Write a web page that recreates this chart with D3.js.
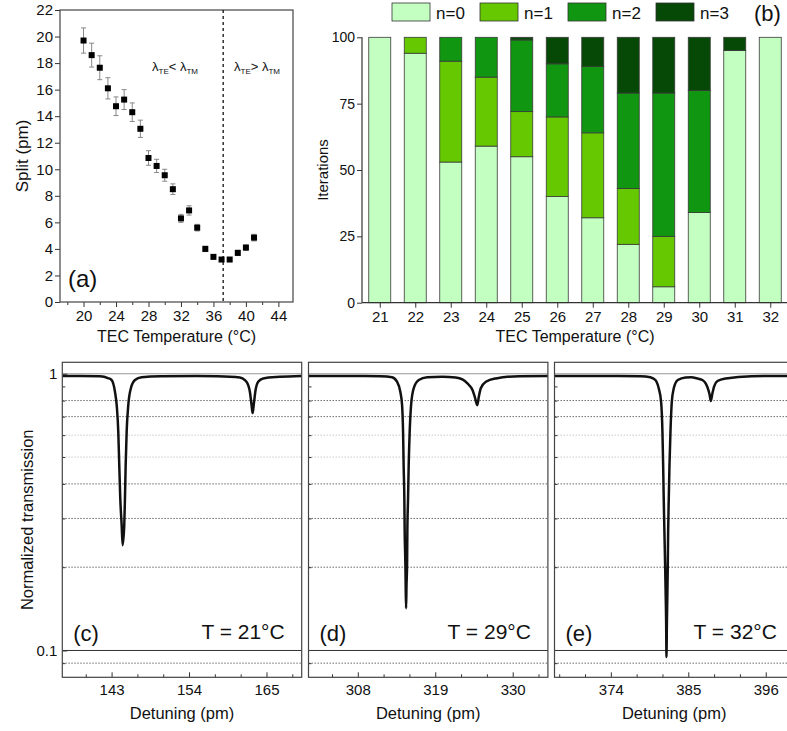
<!DOCTYPE html>
<html>
<head>
<meta charset="utf-8">
<script src="https://cdn.jsdelivr.net/npm/d3@7"></script>
<style>
  body { margin: 0; background: #fff; }
  text { font-family: "Liberation Sans", Arial, sans-serif; fill: #111; }
</style>
</head>
<body>
<div id="chart"></div>
<script>
// ---------- data ----------
// (a) split vs temperature
var splitTemp = [20, 21, 22, 23, 24, 25, 26, 27, 28, 29, 30, 31, 32, 33, 34, 35, 36, 37, 38, 39, 40, 41];
var splitVal  = [19.7, 18.6, 17.65, 16.1, 14.75, 15.25, 14.3, 13.05, 10.85, 10.25, 9.55, 8.5,
                 6.3, 6.9, 5.6, 4.0, 3.4, 3.2, 3.2, 3.7, 4.1, 4.85];
var splitErr  = [0.95, 0.9, 0.9, 0.8, 0.7, 0.75, 0.7, 0.65, 0.55, 0.5, 0.45, 0.4,
                 0.3, 0.35, 0.25, 0.2, 0.15, 0.15, 0.15, 0.2, 0.2, 0.25];
var crossTemp = 37.2;
var aXTicks = [20, 24, 28, 32, 36, 40, 44];
var aXMinor = [18, 22, 26, 30, 34, 38, 42];
var aYTicks = [0, 2, 4, 6, 8, 10, 12, 14, 16, 18, 20, 22];

// (b) iterations per mode number
var barTemp = [21, 22, 23, 24, 25, 26, 27, 28, 29, 30, 31, 32];
var n0 = [100, 94, 53, 59, 55, 40, 32, 22, 6, 34, 95, 100];
var n1 = [0, 6, 38, 26, 17, 30, 32, 21, 19, 0, 0, 0];
var n2 = [0, 0, 9, 15, 27, 20, 25, 36, 54, 46, 0, 0];
var n3 = [0, 0, 0, 0, 1, 10, 11, 21, 21, 20, 5, 0];
var modeKeys = ["n0", "n1", "n2", "n3"];
var modeNames = ["n=0", "n=1", "n=2", "n=3"];
var modeColors = ["#c2ffc0", "#66c800", "#109610", "#064806"];
var bYTicks = [0, 25, 50, 75, 100];

// (c)-(e) transmission spectra
var cX = [136, 138.5, 141.35, 142.49, 143.01, 143.48, 143.76, 143.95, 144.09, 144.23,
          144.43, 144.57, 144.80, 144.90, 145.00, 145.14, 145.37, 145.75, 146.32, 147.27,
          150, 155, 158, 161.22, 161.93, 162.40, 162.64, 162.88, 163.03, 163.21,
          163.45, 163.82, 164.53, 166.90, 170];
var cT = [0.982, 0.982, 0.980, 0.965, 0.949, 0.861, 0.752, 0.617, 0.468, 0.356,
          0.284, 0.240, 0.284, 0.356, 0.468, 0.617, 0.770, 0.888, 0.949, 0.972,
          0.980, 0.982, 0.980, 0.970, 0.949, 0.910, 0.861, 0.770, 0.721, 0.782,
          0.873, 0.936, 0.962, 0.975, 0.982];
var dX = [301, 305, 309, 311.19, 312.86, 313.57, 314.04, 314.29, 314.43, 314.51,
          314.61, 314.66, 314.76, 314.80, 314.86, 314.92, 315.00, 315.04, 315.14, 315.23,
          315.37, 315.57, 315.94, 316.66, 317.86, 320, 321.9, 322.86, 323.57, 324.29,
          324.61, 324.97, 325.19, 325.47, 326.19, 327.61, 331, 335];
var dT = [0.982, 0.982, 0.982, 0.980, 0.972, 0.936, 0.861, 0.770, 0.617, 0.468,
          0.356, 0.269, 0.204, 0.172, 0.142, 0.172, 0.204, 0.269, 0.356, 0.468,
          0.617, 0.770, 0.886, 0.949, 0.972, 0.976, 0.970, 0.955, 0.923, 0.873,
          0.826, 0.770, 0.826, 0.886, 0.936, 0.962, 0.980, 0.982];
var eX = [366, 370, 375, 378.19, 379.61, 380.33, 380.80, 381.14, 381.33, 381.43,
          381.51, 381.61, 381.71, 381.80, 381.86, 381.90, 381.96, 382.02, 382.09, 382.14,
          382.23, 382.33, 382.47, 382.66, 382.94, 383.51, 384.61, 385.5, 386.04, 387.0,
          387.47, 387.86, 388.04, 388.19, 388.43, 388.66, 389.14, 390.33, 394, 400];
var eT = [0.982, 0.982, 0.982, 0.980, 0.972, 0.949, 0.886, 0.792, 0.617, 0.468,
          0.356, 0.269, 0.204, 0.154, 0.124, 0.0947, 0.124, 0.154, 0.204, 0.269,
          0.356, 0.468, 0.617, 0.792, 0.886, 0.949, 0.970, 0.972, 0.965, 0.949,
          0.923, 0.873, 0.838, 0.797, 0.850, 0.898, 0.941, 0.962, 0.980, 0.982];
var specTemps = [21, 29, 32];
var specLetters = ["(c)", "(d)", "(e)"];
var specDomains = [[136, 170], [301, 335], [366, 400]];
var specTicks = [[143, 154, 165], [308, 319, 330], [374, 385, 396]];
var gridSolid = [1, 0.1];
var gridDotted = [0.8, 0.7, 0.4, 0.3, 0.2, 0.09];
var gridFaint = [0.6, 0.5];
var specMinorY = [0.9, 0.8, 0.7, 0.6, 0.5, 0.4, 0.3, 0.2, 0.09];

// ---------- setup ----------
var svg = d3.select("#chart").append("svg")
    .attr("width", 787)
    .attr("height", 731);

function styleAxis(g, size) {
    g.select(".domain").remove();
    g.selectAll(".tick line").attr("stroke", "#333");
    g.selectAll(".tick text").attr("font-size", size).attr("fill", "#111")
        .style("font-family", '"Liberation Sans", Arial, sans-serif');
}

// ---------- panel (a) ----------
var a = { left: 60, right: 293, top: 10, bottom: 302 };
var xa = d3.scaleLinear().domain([17.1, 45.8]).range([a.left, a.right]);
var ya = d3.scaleLinear().domain([0, 22]).range([a.bottom, a.top]);

svg.append("g").attr("transform", "translate(0," + a.bottom + ")")
    .call(d3.axisBottom(xa).tickValues(aXTicks).tickSize(5).tickSizeOuter(0).tickPadding(3))
    .call(styleAxis, 15);
svg.append("g").attr("transform", "translate(0," + a.bottom + ")")
    .call(d3.axisBottom(xa).tickValues(aXMinor).tickSize(3).tickFormat(""))
    .call(styleAxis, 15);
svg.append("g").attr("transform", "translate(" + a.left + ",0)")
    .call(d3.axisLeft(ya).tickValues(aYTicks).tickSize(5).tickSizeOuter(0).tickPadding(2))
    .call(styleAxis, 15);

svg.append("rect")
    .attr("x", a.left).attr("y", a.top)
    .attr("width", a.right - a.left).attr("height", a.bottom - a.top)
    .attr("fill", "none").attr("stroke", "#444").attr("stroke-width", 1.2);

svg.append("line")
    .attr("x1", xa(crossTemp)).attr("x2", xa(crossTemp))
    .attr("y1", a.top).attr("y2", a.bottom)
    .attr("stroke", "#111").attr("stroke-width", 1.3)
    .attr("stroke-dasharray", "3,3");

var errG = svg.append("g").attr("stroke", "#888").attr("stroke-width", 1);
splitTemp.forEach(function(t, i) {
    var x = xa(t);
    var y1 = ya(splitVal[i] + splitErr[i]);
    var y2 = ya(splitVal[i] - splitErr[i]);
    errG.append("line").attr("x1", x).attr("x2", x).attr("y1", y1).attr("y2", y2);
    errG.append("line").attr("x1", x - 2.5).attr("x2", x + 2.5).attr("y1", y1).attr("y2", y1);
    errG.append("line").attr("x1", x - 2.5).attr("x2", x + 2.5).attr("y1", y2).attr("y2", y2);
});

svg.append("g").selectAll("rect")
    .data(splitTemp)
    .enter().append("rect")
    .attr("x", function(d) { return xa(d) - 3; })
    .attr("y", function(d, i) { return ya(splitVal[i]) - 3; })
    .attr("width", 6).attr("height", 6)
    .attr("fill", "#000");

function lambdaText(x, y, op) {
    var t = svg.append("text").attr("x", x).attr("y", y).attr("font-size", 13);
    t.append("tspan").text("λ");
    t.append("tspan").attr("dy", 3).attr("font-size", 8).text("TE");
    t.append("tspan").attr("dy", -3).text(op + " λ");
    t.append("tspan").attr("dy", 3).attr("font-size", 8).text("TM");
}
lambdaText(152, 71, "<");
lambdaText(234, 71, ">");

svg.append("text").attr("x", 68).attr("y", 287).attr("font-size", 24).text("(a)");

svg.append("text")
    .attr("transform", "translate(28," + ((a.top + a.bottom) / 2) + ") rotate(-90)")
    .attr("text-anchor", "middle").attr("font-size", 17).text("Split (pm)");
svg.append("text")
    .attr("x", (a.left + a.right) / 2).attr("y", 342)
    .attr("text-anchor", "middle").attr("font-size", 16).text("TEC Temperature (°C)");

// ---------- panel (b) ----------
var b = { left: 362, right: 788, top: 37.3, bottom: 302.7 };
var xb = d3.scaleLinear().domain([20.5, 32.5]).range([b.left, b.right]);
var yb = d3.scaleLinear().domain([0, 100]).range([b.bottom, b.top]);

var rows = barTemp.map(function(t, i) {
    return { t: t, n0: n0[i], n1: n1[i], n2: n2[i], n3: n3[i] };
});
var series = d3.stack().keys(modeKeys)(rows);

var barW = 22;
svg.append("g").selectAll("g")
    .data(series)
    .enter().append("g")
    .attr("fill", function(d, i) { return modeColors[i]; })
    .selectAll("rect")
    .data(function(d) { return d.filter(function(s) { return s[1] - s[0] > 0; }); })
    .enter().append("rect")
    .attr("x", function(d) { return xb(d.data.t) - barW / 2; })
    .attr("y", function(d) { return yb(d[1]); })
    .attr("width", barW)
    .attr("height", function(d) { return yb(d[0]) - yb(d[1]); })
    .attr("stroke", "#3a3a3a").attr("stroke-width", 0.8);

svg.append("g").attr("transform", "translate(0," + b.bottom + ")")
    .call(d3.axisBottom(xb).tickValues(barTemp).tickSize(5).tickPadding(4).tickFormat(d3.format("d")))
    .call(styleAxis, 15);
svg.append("g").attr("transform", "translate(" + b.left + ",0)")
    .call(d3.axisLeft(yb).tickValues(bYTicks).tickSize(5).tickPadding(2))
    .call(styleAxis, 14);
svg.append("line").attr("x1", b.left).attr("x2", b.right)
    .attr("y1", b.bottom).attr("y2", b.bottom).attr("stroke", "#333").attr("stroke-width", 1.2);
svg.append("line").attr("x1", b.left).attr("x2", b.left)
    .attr("y1", b.top).attr("y2", b.bottom).attr("stroke", "#333").attr("stroke-width", 1.2);

var leg = svg.append("g").selectAll("g")
    .data(modeNames)
    .enter().append("g")
    .attr("transform", function(d, i) { return "translate(" + (392 + i * 88) + ",3)"; });
leg.append("rect")
    .attr("width", 38).attr("height", 18)
    .attr("fill", function(d, i) { return modeColors[i]; })
    .attr("stroke", "#333").attr("stroke-width", 0.8);
leg.append("text").attr("x", 44).attr("y", 16).attr("font-size", 17).text(function(d) { return d; });

svg.append("text").attr("x", 754).attr("y", 21).attr("font-size", 22).text("(b)");

svg.append("text")
    .attr("transform", "translate(328," + ((b.top + b.bottom) / 2) + ") rotate(-90)")
    .attr("text-anchor", "middle").attr("font-size", 15).text("Iterations");
svg.append("text")
    .attr("x", 575).attr("y", 342)
    .attr("text-anchor", "middle").attr("font-size", 16).text("TEC Temperature (°C)");

// ---------- panels (c)-(e) ----------
var sp = { top: 362.3, bottom: 677.3, width: 239.4 };
var spLefts = [62.3, 308.5, 554.5];
var ys = d3.scaleLog().domain([0.08, 1.1]).range([sp.bottom, sp.top]);
var traces = [[cX, cT], [dX, dT], [eX, eT]];

traces.forEach(function(tr, k) {
    var left = spLefts[k];
    var right = left + sp.width;
    var xs = d3.scaleLinear().domain(specDomains[k]).range([left, right]);
    var g = svg.append("g");

    g.append("clipPath").attr("id", "clip" + k)
        .append("rect").attr("x", left).attr("y", sp.top)
        .attr("width", sp.width).attr("height", sp.bottom - sp.top);

    g.selectAll(".gd").data(gridDotted).enter().append("line")
        .attr("x1", left).attr("x2", right)
        .attr("y1", function(d) { return ys(d); }).attr("y2", function(d) { return ys(d); })
        .attr("stroke", "#444").attr("stroke-width", 0.8).attr("stroke-dasharray", "1.5,1.5");
    g.selectAll(".gf").data(gridFaint).enter().append("line")
        .attr("x1", left).attr("x2", right)
        .attr("y1", function(d) { return ys(d); }).attr("y2", function(d) { return ys(d); })
        .attr("stroke", "#bbb").attr("stroke-width", 0.8).attr("stroke-dasharray", "1.5,1.5");
    g.selectAll(".gs").data(gridSolid).enter().append("line")
        .attr("x1", left).attr("x2", right)
        .attr("y1", function(d) { return ys(d); }).attr("y2", function(d) { return ys(d); })
        .attr("stroke", function(d, i) { return i === 0 ? "#999" : "#333"; })
        .attr("stroke-width", 1);

    var pts = tr[0].map(function(x, i) { return [x, tr[1][i]]; });
    var line = d3.line()
        .x(function(d) { return xs(d[0]); })
        .y(function(d) { return ys(d[1]); })
        .curve(d3.curveMonotoneX);
    g.append("path").datum(pts)
        .attr("clip-path", "url(#clip" + k + ")")
        .attr("d", line)
        .attr("fill", "none").attr("stroke", "#111").attr("stroke-width", 2.5)
        .attr("stroke-linejoin", "round");

    var step = (specTicks[k][1] - specTicks[k][0]) / 3;
    var minor = [];
    for (var v = specTicks[k][0] - 2 * step; v < specDomains[k][1]; v += step) {
        if (v > specDomains[k][0] && specTicks[k].every(function(t) { return Math.abs(t - v) > 0.01; })) minor.push(v);
    }
    g.append("g").attr("transform", "translate(0," + sp.bottom + ")")
        .call(d3.axisBottom(xs).tickValues(specTicks[k]).tickSize(-5).tickPadding(7).tickFormat(d3.format("d")))
        .call(styleAxis, 15);
    g.append("g").attr("transform", "translate(0," + sp.bottom + ")")
        .call(d3.axisBottom(xs).tickValues(minor).tickSize(-3).tickFormat(""))
        .call(styleAxis, 15);
    g.append("g").attr("transform", "translate(" + left + ",0)")
        .call(d3.axisLeft(ys).tickValues(specMinorY).tickSize(-3).tickFormat(""))
        .call(styleAxis, 15);
    if (k === 0) {
        g.append("g").attr("transform", "translate(" + left + ",0)")
            .call(d3.axisLeft(ys).tickValues(gridSolid).tickSize(-5).tickPadding(5).tickFormat(d3.format("")))
            .call(styleAxis, 15);
    }

    g.append("rect")
        .attr("x", left).attr("y", sp.top)
        .attr("width", sp.width).attr("height", sp.bottom - sp.top)
        .attr("fill", "none").attr("stroke", "#444").attr("stroke-width", 1.2);

    g.append("text").attr("x", left + 11).attr("y", 641).attr("font-size", 22).text(specLetters[k]);
    g.append("text").attr("x", right - 17).attr("y", 639).attr("text-anchor", "end")
        .attr("font-size", 21).text("T = " + specTemps[k] + "°C");
    g.append("text").attr("x", (left + right) / 2).attr("y", 719)
        .attr("text-anchor", "middle").attr("font-size", 16.5).text("Detuning (pm)");
});

svg.append("text")
    .attr("transform", "translate(33," + ((sp.top + sp.bottom) / 2) + ") rotate(-90)")
    .attr("text-anchor", "middle").attr("font-size", 16.5).text("Normalized transmission");
</script>
</body>
</html>
